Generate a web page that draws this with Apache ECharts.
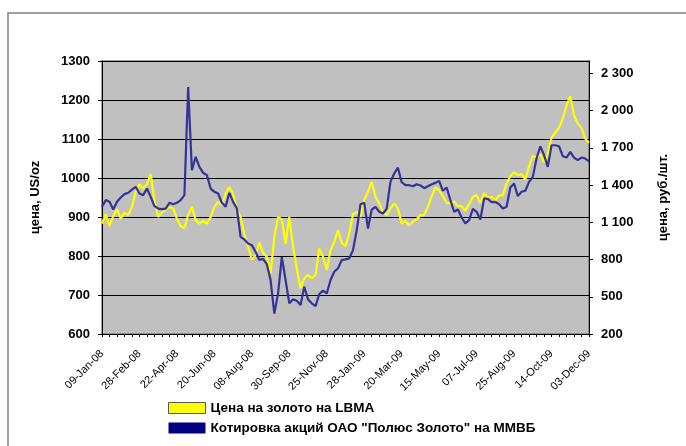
<!DOCTYPE html>
<html>
<head>
<meta charset="utf-8">
<script src="https://cdn.jsdelivr.net/npm/echarts@6/dist/echarts.min.js"></script>
<style>
  html, body { margin: 0; padding: 0; background: #fff; }
  #chart { width: 686px; height: 446px; }
</style>
</head>
<body>
<div id="chart"></div>
<script>
// подписи оси X (каждая 10-я точка)
const tickLabels = ['09-Jan-08', '28-Feb-08', '22-Apr-08', '20-Jun-08', '08-Aug-08', '30-Sep-08', '25-Nov-08',
  '28-Jan-09', '20-Mar-09', '15-May-09', '07-Jul-09', '25-Aug-09', '14-Oct-09', '03-Dec-09'];

// цена золота LBMA, US/oz
const goldUsd = [
  883, 907, 877, 902, 920, 896, 911, 905, 926, 965,
  984, 973, 984, 1010, 943, 900, 911, 919, 926, 922,
  896, 877, 871, 905, 926, 892, 883, 890, 883, 900,
  926, 939, 930, 960, 977, 958, 918, 900, 854, 824,
  791, 802, 834, 808, 798, 755, 849, 900, 894, 832,
  900, 824, 768, 717, 743, 751, 743, 751, 819, 798,
  764, 815, 836, 866, 834, 825, 858, 907, 913, 900,
  945, 965, 990, 952, 935, 913, 905, 922, 935, 922,
  883, 890, 879, 888, 894, 905, 905, 926, 953, 976,
  969, 953, 936, 935, 940, 928, 928, 916, 933, 952,
  956, 936, 962, 949, 952, 943, 955, 956, 986, 1005,
  1015, 1007, 1010, 996, 1030, 1057, 1052, 1061, 1040, 1061,
  1104, 1116, 1129, 1152, 1186, 1210, 1161, 1140, 1128, 1101,
  1090
];

// котировки ОАО "Полюс Золото" на ММВБ, руб./шт.
const polyusRub = [
  1225, 1279, 1265, 1203, 1265, 1300, 1327, 1338, 1364, 1386,
  1332, 1319, 1372, 1305, 1230, 1211, 1206, 1211, 1257, 1246,
  1257, 1279, 1319, 2191, 1520, 1627, 1547, 1499, 1480, 1372,
  1346, 1332, 1257, 1225, 1338, 1265, 1211, 983, 962, 930,
  916, 863, 796, 806, 763, 635, 365, 527, 820, 635,
  447, 479, 468, 433, 581, 479, 447, 425, 522, 549,
  527, 635, 702, 729, 796, 801, 809, 876, 1037, 1246,
  1257, 1050, 1203, 1225, 1185, 1171, 1211, 1426, 1493, 1540,
  1423, 1399, 1399, 1391, 1407, 1397, 1375, 1391, 1407, 1418,
  1434, 1354, 1381, 1279, 1185, 1203, 1139, 1091, 1118, 1209,
  1185, 1123, 1292, 1289, 1262, 1265, 1246, 1211, 1225, 1381,
  1413, 1311, 1346, 1354, 1426, 1466, 1614, 1713, 1641, 1547,
  1721, 1721, 1713, 1633, 1622, 1668, 1622, 1601, 1622, 1614,
  1592
];

const rubTicks = [200, 500, 800, 1100, 1400, 1700, 2000, 2300];
const seriesNames = ['Цена на золото на LBMA', 'Котировка акций ОАО "Полюс Золото" на ММВБ'];

const font = 'Arial, "Liberation Sans", sans-serif';
const categories = goldUsd.map((v, i) => String(i));

const myChart = echarts.init(document.getElementById('chart'));

const option = {
  animation: false,
  backgroundColor: '#fff',
  textStyle: { fontFamily: font },
  graphic: [
    {
      type: 'rect',
      shape: { x: 8, y: 13, width: 700, height: 460 },
      style: { fill: 'none', stroke: '#808080', lineWidth: 1.5 },
      silent: true
    }
  ],
  grid: {
    left: 102,
    right: 97,
    top: 61,
    bottom: 112,
    show: true,
    backgroundColor: '#C0C0C0',
    borderColor: '#808080',
    borderWidth: 1.5
  },
  legend: {
    orient: 'vertical',
    left: 163,
    top: 396,
    itemWidth: 37,
    itemHeight: 11,
    itemGap: 6,
    icon: 'rect',
    textStyle: { fontFamily: font, fontWeight: 'bold', fontSize: 13.5, lineHeight: 12, color: '#000' },
    data: [
      { name: seriesNames[0], itemStyle: { color: '#FFFF00', borderColor: '#555', borderWidth: 1 } },
      { name: seriesNames[1], itemStyle: { color: '#000080', borderWidth: 0 } }
    ]
  },
  xAxis: {
    type: 'category',
    data: categories,
    boundaryGap: false,
    axisLine: { lineStyle: { color: '#000', width: 1 } },
    axisTick: { interval: 1, length: 3, lineStyle: { color: '#000' } },
    axisLabel: {
      interval: 9,
      rotate: 45,
      margin: 18,
      fontSize: 11,
      color: '#000',
      fontFamily: font,
      formatter: (value, index) => tickLabels[index / 10] || ''
    },
    splitLine: { show: false }
  },
  yAxis: [
    {
      type: 'value',
      min: 600,
      max: 1300,
      interval: 100,
      name: 'цена, US/oz',
      nameLocation: 'middle',
      nameRotate: 90,
      nameGap: 60,
      nameTextStyle: { fontFamily: font, fontWeight: 'bold', fontSize: 13, color: '#000' },
      axisLine: { show: true, lineStyle: { color: '#000' } },
      axisTick: { show: true, length: 4, lineStyle: { color: '#000' } },
      axisLabel: {
        fontFamily: font, fontWeight: 'bold', fontSize: 13, color: '#000', margin: 12,
        formatter: v => String(v)
      },
      splitLine: { lineStyle: { color: '#000', width: 1 } }
    },
    {
      type: 'value',
      min: 200,
      max: 2400,
      interval: 300,
      position: 'right',
      name: 'цена, руб./шт.',
      nameLocation: 'middle',
      nameRotate: 90,
      nameGap: 68,
      nameTextStyle: { fontFamily: font, fontWeight: 'bold', fontSize: 13, color: '#000' },
      axisLine: { show: true, lineStyle: { color: '#000' } },
      axisTick: { show: true, length: 4, customValues: rubTicks, lineStyle: { color: '#000' } },
      axisLabel: {
        fontFamily: font, fontWeight: 'bold', fontSize: 13, color: '#000', margin: 12,
        customValues: rubTicks,
        formatter: v => String(v).replace(/\B(?=(\d{3})+(?!\d))/g, ' ')
      },
      splitLine: { show: false }
    }
  ],
  series: [
    {
      name: seriesNames[0],
      type: 'line',
      yAxisIndex: 0,
      data: goldUsd,
      showSymbol: false,
      lineStyle: { color: '#FFFF00', width: 2.2 },
      itemStyle: { color: '#FFFF00' }
    },
    {
      name: seriesNames[1],
      type: 'line',
      yAxisIndex: 1,
      data: polyusRub,
      showSymbol: false,
      lineStyle: { color: '#333399', width: 2.2 },
      itemStyle: { color: '#000080' }
    }
  ]
};

myChart.setOption(option);
window.onresize = () => {
  myChart.resize();
};
</script>
</body>
</html>
